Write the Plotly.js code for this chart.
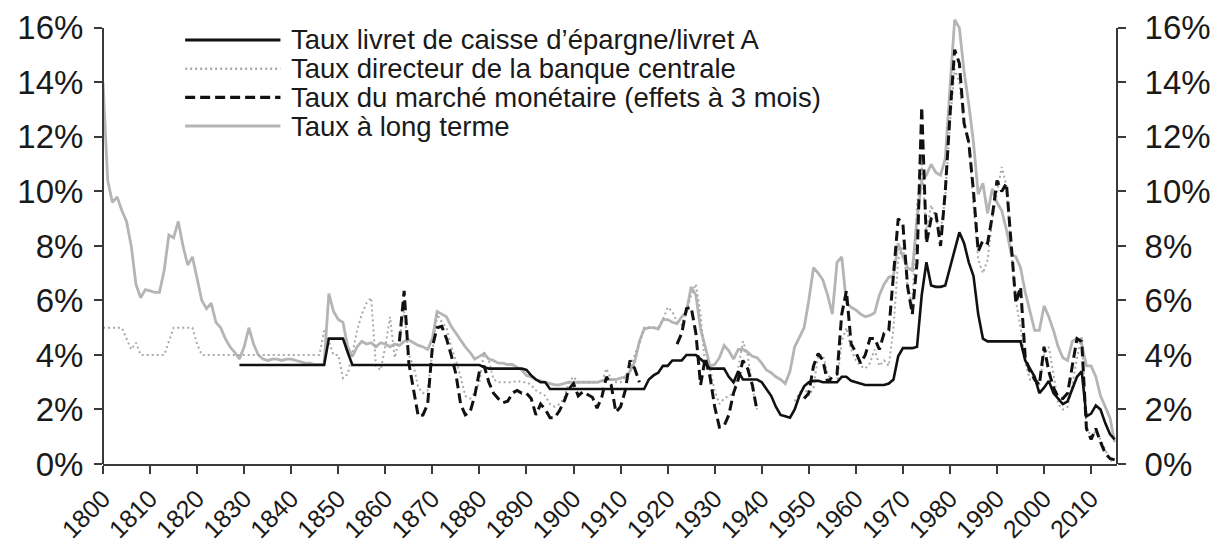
<!DOCTYPE html>
<html>
<head>
<meta charset="utf-8">
<script src="https://cdn.plot.ly/plotly-3.0.1.min.js"></script>
<style>html,body{margin:0;padding:0;background:#fff}#chart{width:1218px;height:545px}</style>
</head>
<body>
<div id="chart"></div>
<script>
// Series names (legend order)
const seriesNames = [
  "Taux livret de caisse d’épargne/livret A",
  "Taux directeur de la banque centrale",
  "Taux du marché monétaire (effets à 3 mois)",
  "Taux à long terme"
];

// Long-term rate, yearly from 1800
const longStart = 1800;
const longRate = [
  14.0,10.4,9.6,9.8,9.3,8.9,8.0,6.6,6.1,6.4,
  6.35,6.3,6.3,7.1,8.4,8.3,8.9,8.0,7.3,7.6,
  6.8,6.0,5.7,5.9,5.2,5.0,4.6,4.3,4.1,3.85,
  4.3,5.0,4.4,4.0,3.85,3.8,3.85,3.85,3.8,3.85,
  3.85,3.8,3.75,3.7,3.7,3.65,3.65,3.7,6.25,5.6,
  5.3,5.2,4.3,3.95,4.3,4.5,4.4,4.45,4.3,4.45,
  4.4,4.3,4.4,4.35,4.5,4.55,4.45,4.35,4.3,4.2,
  4.6,5.6,5.5,5.4,5.05,4.8,4.55,4.3,4.1,3.85,
  3.95,4.05,3.85,3.8,3.7,3.7,3.65,3.65,3.55,3.45,
  3.25,3.2,3.1,3.05,3.0,2.95,2.9,2.9,2.95,3.0,
  3.0,3.0,3.0,3.0,3.0,3.0,3.05,3.1,3.1,3.1,
  3.15,3.2,3.4,3.75,4.5,4.95,5.0,5.0,4.95,5.3,
  5.3,5.2,5.15,5.4,5.6,6.5,6.2,4.95,4.3,3.6,
  3.65,3.9,4.35,4.15,3.85,4.2,4.2,4.1,3.95,3.9,
  3.7,3.45,3.35,3.2,3.1,2.95,3.4,4.3,4.65,5.0,
  6.0,7.2,7.0,6.75,6.2,5.5,7.4,7.6,5.9,5.75,
  5.65,5.5,5.4,5.45,5.55,6.2,6.6,6.85,6.9,8.1,
  7.6,7.2,7.1,9.0,10.4,10.6,11.0,10.7,10.6,11.2,
  13.8,16.3,16.0,14.4,13.2,11.8,9.9,10.3,9.2,10.1,
  9.6,9.3,8.6,7.7,7.6,7.2,6.3,5.6,4.9,4.9,
  5.8,5.4,4.9,4.3,3.9,3.8,4.5,4.6,4.4,3.6,
  3.6,3.2,2.5,2.1,1.7,0.8
];

// Central bank policy rate, yearly from 1800 (null = not shown)
const policyStart = 1800;
const policyRate = [
  5.0,5.0,5.0,5.0,5.0,4.6,4.2,4.45,4.0,4.0,
  4.0,4.0,4.0,4.0,4.5,5.0,5.0,5.0,5.0,5.0,
  4.4,4.0,4.0,4.0,4.0,4.0,4.0,4.0,4.0,4.0,
  4.0,4.0,4.0,4.0,4.0,4.0,4.0,4.0,4.0,4.0,
  4.0,4.0,4.0,4.0,4.0,4.0,4.0,4.9,4.5,4.0,
  4.0,3.15,3.3,4.05,4.9,5.5,5.9,6.1,3.6,3.45,
  4.3,5.4,3.9,4.6,5.6,4.0,3.6,2.8,2.6,2.7,
  4.0,5.5,5.2,5.0,4.3,3.8,3.2,2.5,2.4,2.6,
  3.0,4.1,3.8,3.1,3.0,3.0,3.0,3.0,3.05,3.0,
  3.0,2.9,2.7,2.6,2.5,2.2,2.1,2.2,2.4,3.0,
  3.2,3.0,3.0,3.0,3.0,3.0,3.0,3.5,3.1,3.0,
  3.0,3.2,3.4,4.0,4.4,5.0,5.0,5.0,5.0,5.3,
  5.75,5.6,5.2,5.1,5.6,6.2,6.6,5.5,3.5,3.5,
  2.7,2.2,2.4,2.5,2.6,3.5,4.5,4.0,2.8,2.0,
  null,null,null,null,null,null,null,2.3,2.6,2.8,
  2.5,2.8,4.0,4.0,3.3,3.0,3.0,4.5,5.0,4.2,
  3.8,3.6,3.5,3.7,4.2,3.6,3.8,3.6,5.0,7.5,
  8.0,6.5,5.8,9.5,11.0,8.5,9.5,9.0,8.5,9.8,
  12.5,14.5,14.0,12.5,11.8,9.5,7.5,7.0,7.5,9.0,
  10.0,10.9,10.2,7.8,6.0,5.0,3.7,3.1,3.2,2.9,
  4.0,4.3,3.3,2.2,2.0,2.1,2.9,3.9,4.7,1.4,
  1.0,1.2,0.9,0.5,0.15,0.05
];

// Money market rate (3-month bills), yearly from 1863 (null = gap)
const marketStart = 1863;
const marketRate = [
  4.5,6.35,3.7,2.7,1.75,1.8,2.2,
  4.3,5.0,5.05,4.6,4.0,3.3,2.2,1.8,1.9,2.5,
  3.4,3.6,3.0,2.6,2.4,2.25,2.3,2.6,2.7,2.6,
  2.6,2.4,1.8,2.2,2.0,1.7,1.7,1.95,2.3,2.75,
  2.95,2.5,2.65,2.55,2.45,2.05,2.45,3.2,2.9,1.9,
  2.1,2.7,3.8,3.5,3.0,null,null,null,null,null,
  null,null,4.4,4.8,5.7,5.75,4.8,2.9,3.9,3.2,
  2.1,1.35,1.4,1.8,2.6,3.1,3.8,3.5,2.9,1.95,
  null,null,null,null,null,null,null,null,null,2.4,
  2.6,3.6,4.05,3.8,3.0,3.2,3.3,5.5,6.35,4.4,
  4.1,3.7,4.0,4.6,4.6,4.2,4.8,4.9,7.0,9.0,
  8.8,6.5,5.5,7.4,13.1,8.1,9.0,9.2,8.0,10.0,
  12.8,15.2,14.7,12.5,11.8,10.0,7.8,8.2,8.1,9.1,
  10.4,10.0,10.3,8.1,5.9,6.5,3.9,3.4,3.1,2.9,
  4.3,3.4,2.8,2.45,2.4,2.6,3.6,4.6,4.5,1.3,
  0.9,1.3,0.8,0.4,0.2,0.15
];

// Savings account (livret A) rate, yearly from 1829
const livretStart = 1829;
const livretRate = [
  3.63,3.63,3.63,3.63,3.63,3.63,3.63,3.63,3.63,3.63,3.63,
  3.63,3.63,3.63,3.63,3.63,3.63,3.63,3.63,4.6,4.6,
  4.6,4.6,4.1,3.63,3.63,3.63,3.63,3.63,3.63,3.63,
  3.63,3.63,3.63,3.63,3.63,3.63,3.63,3.63,3.63,3.63,
  3.63,3.63,3.63,3.63,3.63,3.63,3.63,3.63,3.63,3.63,
  3.63,3.55,3.5,3.5,3.5,3.5,3.5,3.5,3.5,3.5,
  3.45,3.25,3.1,3.0,3.0,2.75,2.75,2.75,2.75,2.75,
  2.75,2.75,2.75,2.75,2.75,2.75,2.75,2.75,2.75,2.75,
  2.75,2.75,2.75,2.75,2.75,2.75,3.1,3.25,3.35,3.6,
  3.6,3.8,3.8,3.8,4.0,4.0,4.0,3.85,3.7,3.5,
  3.5,3.5,3.5,3.2,3.0,3.4,3.1,3.1,3.1,3.1,
  3.0,2.75,2.5,2.1,1.8,1.75,1.7,2.0,2.5,2.85,
  3.0,3.05,3.05,3.0,3.0,3.0,3.0,3.2,3.2,3.05,
  3.0,2.95,2.9,2.9,2.9,2.9,2.9,2.95,3.1,3.95,
  4.25,4.25,4.25,4.3,6.2,7.4,6.55,6.5,6.5,6.55,
  7.2,7.85,8.5,8.1,7.4,6.9,5.5,4.6,4.5,4.5,
  4.5,4.5,4.5,4.5,4.5,4.5,3.8,3.5,3.2,2.6,
  2.8,3.05,2.6,2.4,2.2,2.3,2.75,3.2,3.4,1.75,
  1.85,2.15,2.0,1.5,1.1,0.9
];

// Axis ticks
const xTickYears = [1800,1810,1820,1830,1840,1850,1860,1870,1880,1890,1900,1910,1920,1930,1940,1950,1960,1970,1980,1990,2000,2010];
const yTickVals = [0,2,4,6,8,10,12,14,16];
const yTickText = ['0%','2%','4%','6%','8%','10%','12%','14%','16%'];

function yearsFor(start, arr){ return arr.map((_, i) => start + i); }

const BLACK = '#111111';
const GREY = '#b5b5b5';
const DOTGREY = '#a9a9a9';
const AXIS = '#3a3a3a';
const FONT = 'Liberation Sans, Arial, Helvetica, sans-serif';

const styles = {
  livret: {color: BLACK, width: 2.6, dash: 'solid'},
  policy: {color: DOTGREY, width: 2, dash: '2px,3px'},
  market: {color: BLACK, width: 3, dash: '10px,5px'},
  long:   {color: GREY, width: 2.8, dash: 'solid'}
};

const traces = [
  {x: yearsFor(longStart, longRate), y: longRate, name: seriesNames[3], mode: 'lines', line: styles.long, connectgaps: false},
  {x: yearsFor(policyStart, policyRate), y: policyRate, name: seriesNames[1], mode: 'lines', line: styles.policy, connectgaps: false},
  {x: yearsFor(livretStart, livretRate), y: livretRate, name: seriesNames[0], mode: 'lines', line: styles.livret, connectgaps: false},
  {x: yearsFor(marketStart, marketRate), y: marketRate, name: seriesNames[2], mode: 'lines', line: styles.market, connectgaps: false},
  {x: [1800], y: [null], yaxis: 'y2', mode: 'lines', showlegend: false, hoverinfo: 'skip'}
];

const Y_MAX_TICK = 16, Y_TOP = 16.4;

// Custom legend (long sample lines) in paper coordinates
const legendOrder = [
  {name: seriesNames[0], style: styles.livret},
  {name: seriesNames[1], style: styles.policy},
  {name: seriesNames[2], style: styles.market},
  {name: seriesNames[3], style: styles.long}
];
const legX0 = 0.081, legX1 = 0.175, legTextX = 0.183;
const legYData = [15.56, 14.5, 13.45, 12.4];
const shapes = [], annotations = [];
legendOrder.forEach((it, i) => {
  shapes.push({type: 'line', xref: 'paper', yref: 'y', x0: legX0, x1: legX1, y0: legYData[i], y1: legYData[i],
    line: {color: it.style.color, width: it.style.width + 0.4, dash: it.style.dash}});
  annotations.push({xref: 'paper', yref: 'y', x: legTextX, y: legYData[i], xanchor: 'left', yanchor: 'middle',
    text: it.name, showarrow: false, font: {family: FONT, size: 27.5, color: '#1a1a1a'}});
});
// vertical axis lines ending at the 16% tick
[0, 1].forEach(px => {
  shapes.push({type: 'line', xref: 'paper', yref: 'y', x0: px, x1: px, y0: 0, y1: Y_MAX_TICK,
    line: {color: AXIS, width: 2}});
});

const axisCommon = {
  linecolor: AXIS, linewidth: 2,
  ticks: 'outside', ticklen: 8, tickwidth: 2, tickcolor: AXIS,
  showgrid: false, zeroline: false, automargin: false
};

const layout = {
  width: 1218, height: 545,
  margin: {l: 103, r: 101, t: 17, b: 81, pad: 0},
  paper_bgcolor: '#ffffff', plot_bgcolor: '#ffffff',
  showlegend: false,
  font: {family: FONT, color: '#1a1a1a'},
  xaxis: Object.assign({}, axisCommon, {
    showline: true,
    range: [1800, 2015.5], tickmode: 'array', tickvals: xTickYears, ticktext: xTickYears.map(String),
    tickangle: -45, tickfont: {family: FONT, size: 25, color: '#1a1a1a'}, ticklabelstandoff: 0
  }),
  yaxis: Object.assign({}, axisCommon, {
    showline: false,
    range: [0, Y_TOP], tickmode: 'array', tickvals: yTickVals, ticktext: yTickText,
    tickfont: {family: FONT, size: 33, color: '#1a1a1a'}, ticklabelstandoff: 4
  }),
  yaxis2: Object.assign({}, axisCommon, {
    showline: false,
    range: [0, Y_TOP], tickmode: 'array', tickvals: yTickVals, ticktext: yTickText,
    overlaying: 'y', side: 'right', anchor: 'x',
    tickfont: {family: FONT, size: 33, color: '#1a1a1a'}, ticklabelstandoff: 12
  }),
  shapes: shapes,
  annotations: annotations
};

Plotly.newPlot('chart', traces, layout, {displayModeBar: false, staticPlot: true});
</script>
</body>
</html>
